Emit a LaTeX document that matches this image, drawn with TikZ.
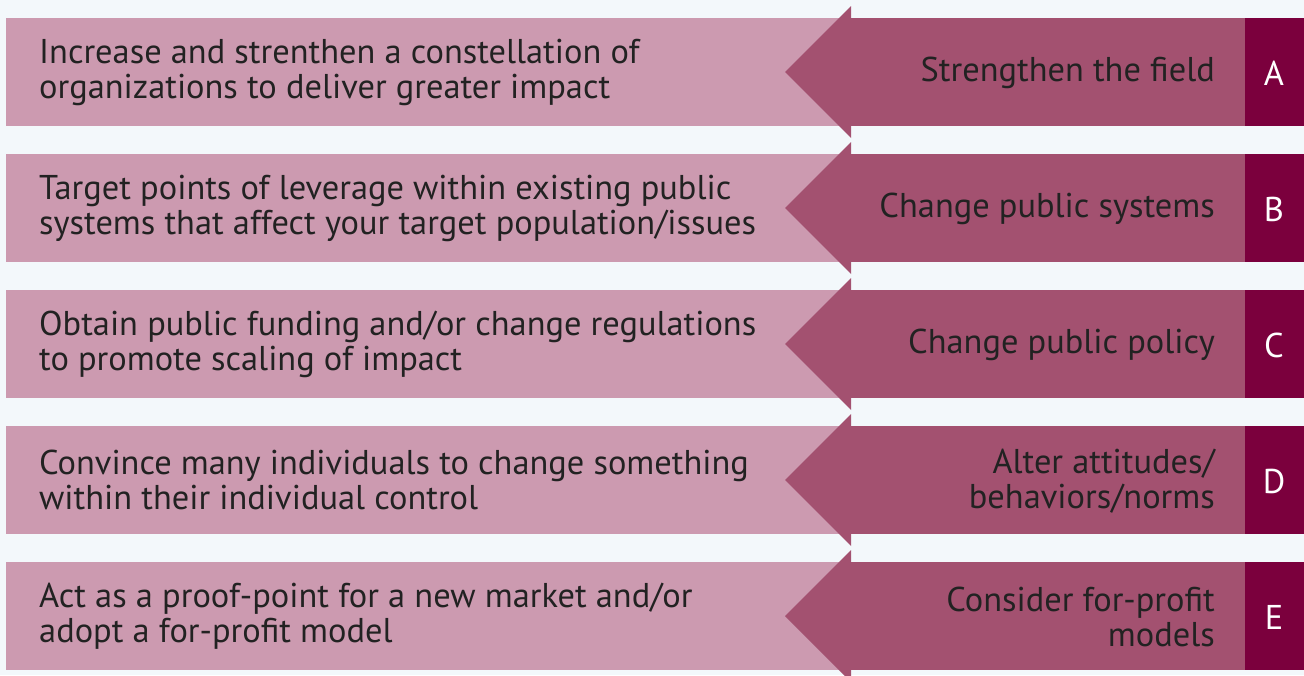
\documentclass[tikz,border=0pt]{standalone}
\usepackage{fontspec}
\setmainfont{PT Sans}
\definecolor{bgc}{RGB}{243,248,251}
\definecolor{lightp}{RGB}{204,154,176}
\definecolor{midp}{RGB}{163,81,112}
\definecolor{darkp}{RGB}{123,0,61}
\definecolor{txt}{RGB}{34,34,34}
\tikzset{
  desc/.style={anchor=west, align=left, text=txt, inner sep=0pt, font=\fontsize{34.4}{35}\selectfont},
  lab/.style={anchor=east, align=right, text=txt, inner sep=0pt, font=\fontsize{34.4}{35}\selectfont},
  letter/.style={anchor=center, text=white, inner sep=0pt, font=\fontsize{34.4}{35}\selectfont},
}
\begin{document}
\begin{tikzpicture}[x=1pt,y=-1pt]
\fill[bgc] (0,0) rectangle (1304,675);
\useasboundingbox (0,0) rectangle (1304,675);
\foreach \y/\d/\l/\k in {
  18/{Increase and strenthen a constellation of\\organizations to deliver greater impact}/{Strengthen the field}/A,
  154/{Target points of leverage within existing public\\systems that affect your target population/issues}/{Change public systems}/B,
  290/{Obtain public funding and/or change regulations\\to promote scaling of impact}/{Change public policy}/C,
  426/{Convince many individuals to change something\\within their individual control}/{Alter attitudes/\\behaviors/norms}/D,
  562/{Act as a proof-point for a new market and/or\\adopt a for-profit model}/{Consider for-profit\\models}/E}{
  \fill[lightp] (6,\y) rectangle (851,\y+108);
  \fill[midp] (851,\y-12) -- (785,\y+54) -- (851,\y+120) -- cycle;
  \fill[midp] (850.5,\y) rectangle (1245,\y+108);
  \fill[darkp] (1245,\y) rectangle (1304,\y+108);
  \node[desc] (d\k) at (39,\y+54) {\d};
  \node[lab] (l\k) at (1215,\y+55) {\l};
  \node[letter] (k\k) at (1274,\y+55) {\k};
}
\end{tikzpicture}
\end{document}
